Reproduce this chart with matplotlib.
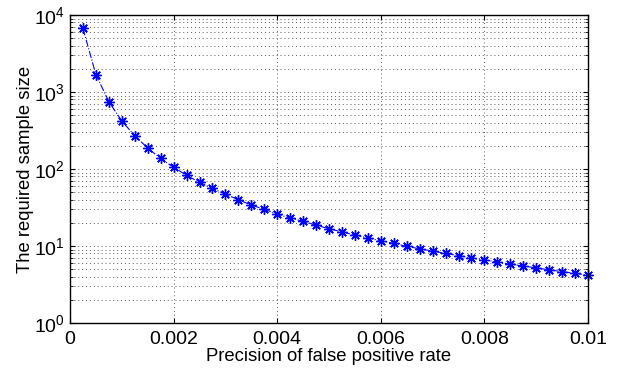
import numpy as np
import matplotlib
matplotlib.use("Agg")
import matplotlib.pyplot as plt

plt.rcParams['font.family'] = ['Liberation Sans', 'DejaVu Sans']

# precision of false positive rate and required sample size
precision = [0.00025 * k for k in range(1, 41)]
sample_size = [6700, 1680, 750, 420, 270, 187, 137, 105, 83, 67,
               56, 47, 40, 34, 30, 26, 23, 21, 18.6, 16.8,
               15.2, 13.9, 12.7, 11.7, 10.8, 9.9, 9.2, 8.6, 8.0, 7.5,
               7.0, 6.6, 6.2, 5.8, 5.5, 5.2, 4.9, 4.65, 4.4, 4.2]

fig = plt.figure(figsize=(6.18, 3.72), dpi=100)
ax = fig.add_axes([70/618, 1 - 323/372, 518/618, 308/372])

ax.semilogy(precision, sample_size, '-.', color='blue', lw=0.8,
            marker=(8, 2, 0), markersize=7.5, markeredgewidth=1.0, clip_on=False)

ax.set_xlim(0, 0.01)
ax.set_ylim(1, 1e4)
ax.set_xticks([0, 0.002, 0.004, 0.006, 0.008, 0.01])
ax.set_xticklabels(['0', '0.002', '0.004', '0.006', '0.008', '0.01'])
dots = (0, (1, 3))
ax.grid(True, which='major', linestyle=dots, color='0.35', lw=0.7)
ax.grid(True, which='minor', axis='y', linestyle=dots, color='0.35', lw=0.7)
ax.tick_params(which='both', direction='in', top=True, right=True, labelsize=14)
ax.tick_params(axis='x', pad=6)
for s in ax.spines.values():
    s.set_linewidth(1.0)

ax.set_xlabel("Precision of false positive rate", fontsize=13.3, labelpad=0)
ax.set_ylabel("The required sample size", fontsize=13.3, labelpad=0)

fig.savefig("out.png", dpi=100)
